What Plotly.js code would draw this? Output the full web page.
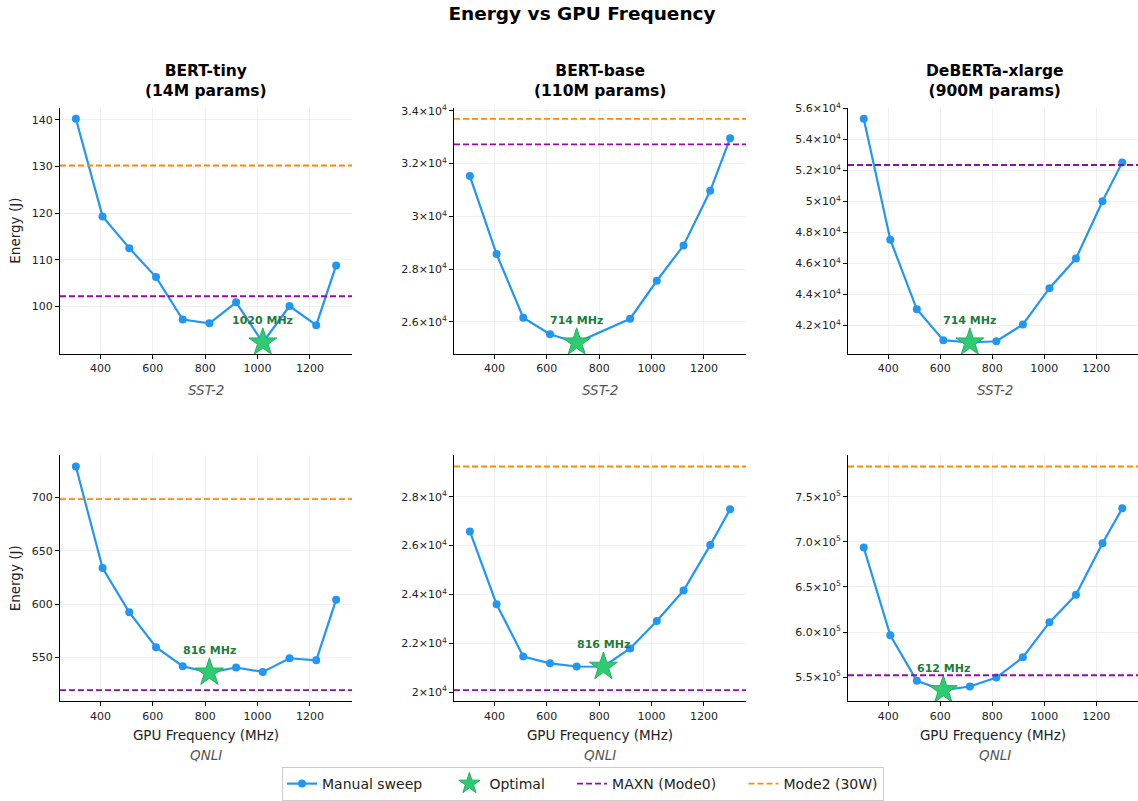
<!DOCTYPE html>
<html>
<head>
<meta charset="utf-8">
<script src="https://cdn.plot.ly/plotly-3.0.1.min.js"></script>
<style>
html,body{margin:0;padding:0;background:#fff;overflow:hidden;}
#chart{width:1138px;height:801px;}
</style>
</head>
<body>
<div id="chart"></div>
<script>
// ---------------- data ----------------
const freqs = [306, 408, 510, 612, 714, 816, 918, 1020, 1122, 1224, 1300];

const tinySst2   = [140.2, 119.3, 112.5, 106.3, 97.2, 96.4, 100.9, 92.3, 100.1, 96.0, 108.8];
const baseSst2   = [31530, 28570, 26160, 25530, 25220, null, 26120, 27560, 28900, 30970, 32960];
const debertaSst2 = [55330, 47540, 43050, 41060, 40910, 40990, 42070, 44410, 46320, 50010, 52520];
const tinyQnli   = [729.0, 633.9, 592.4, 559.7, 541.9, 536.0, 540.7, 536.6, 549.4, 547.5, 604.3];
const baseQnli   = [26580, 23600, 21460, 21180, 21050, 21040, 21790, 22910, 24160, 26020, 27490];
const debertaQnli = [693650, 596420, 545960, 535650, 539700, 549650, 572110, 610780, 641350, 698440, 737110];

// order: tiny-SST2, base-SST2, deberta-SST2, tiny-QNLI, base-QNLI, deberta-QNLI
const maxnLine  = [102.2, 32730, 52350, 519.5, 20080, 552200];
const mode2Line = [130.2, 33700, null, 698.4, 29240, 783500];
const optimalFreq = [1020, 714, 714, 816, 816, 612];

const modelTitles = ['BERT-tiny<br>(14M params)', 'BERT-base<br>(110M params)', 'DeBERTa-xlarge<br>(900M params)'];
const datasets = ['SST-2', 'QNLI'];
const legendNames = ['Manual sweep', 'Optimal', 'MAXN (Mode0)', 'Mode2 (30W)'];

const xTicks = [400, 600, 800, 1000, 1200];
const yTickVals = [
  [100, 110, 120, 130, 140],
  [26000, 28000, 30000, 32000, 34000],
  [42000, 44000, 46000, 48000, 50000, 52000, 54000, 56000],
  [550, 600, 650, 700],
  [20000, 22000, 24000, 26000, 28000],
  [550000, 600000, 650000, 700000, 750000]
];
const yTickText = [
  ['100', '110', '120', '130', '140'],
  ['2.6×10<sup>4</sup>', '2.8×10<sup>4</sup>', '3×10<sup>4</sup>', '3.2×10<sup>4</sup>', '3.4×10<sup>4</sup>'],
  ['4.2×10<sup>4</sup>', '4.4×10<sup>4</sup>', '4.6×10<sup>4</sup>', '4.8×10<sup>4</sup>', '5×10<sup>4</sup>', '5.2×10<sup>4</sup>', '5.4×10<sup>4</sup>', '5.6×10<sup>4</sup>'],
  ['550', '600', '650', '700'],
  ['2×10<sup>4</sup>', '2.2×10<sup>4</sup>', '2.4×10<sup>4</sup>', '2.6×10<sup>4</sup>', '2.8×10<sup>4</sup>'],
  ['5.5×10<sup>5</sup>', '6.0×10<sup>5</sup>', '6.5×10<sup>5</sup>', '7.0×10<sup>5</sup>', '7.5×10<sup>5</sup>']
];

const allSeries = [tinySst2, baseSst2, debertaSst2, tinyQnli, baseQnli, debertaQnli];

// ---------------- styling / layout ----------------
const W = 1138, H = 801;
const FONT = 'DejaVu Sans, Liberation Sans, sans-serif';
const BLUE = '#2196F3', STAR = '#2ecc71', STAR_EDGE = '#27ae60';
const PURPLE = '#8e0ea8', ORANGE = '#ff8c00', LABEL_GREEN = '#1e7b3a';
const xRange = [245.4, 1360.6];
const PADNAME = '\u00a0\u00a0\u00a0\u00a0\u00a0';

const colPx = [[60, 352], [454, 746], [848, 1138]];
const rowPx = [[108, 355], [457, 704]];

const traces = [];
const layout = {
  width: W, height: H,
  margin: {l: 0, r: 0, t: 0, b: 0},
  paper_bgcolor: '#ffffff', plot_bgcolor: '#ffffff',
  font: {family: FONT, color: '#222', size: 11},
  title: {text: 'Energy vs GPU Frequency', font: {family: FONT, size: 18.5, weight: 'bold', color: '#000'},
          x: 582 / W, xref: 'container', xanchor: 'center', y: 1 - 14 / H, yref: 'container', yanchor: 'middle'},
  showlegend: true,
  legend: {orientation: 'h', x: 583 / W, xanchor: 'center', y: 1 - 787 / H, yanchor: 'middle',
           bordercolor: '#cccccc', borderwidth: 1, bgcolor: '#ffffff',
           font: {family: FONT, size: 14, color: '#222'}, itemwidth: 30, tracegroupgap: 0},
  annotations: []
};

function rangeOf(vals) {
  const v = vals.filter(a => a !== null && a !== undefined);
  const mn = Math.min(...v), mx = Math.max(...v), pad = (mx - mn) * 0.05;
  return [mn - pad, mx + pad];
}

for (let k = 0; k < 6; k++) {
  const r = Math.floor(k / 3), c = k % 3;
  const idx = k + 1;
  const xa = 'xaxis' + (idx === 1 ? '' : idx), ya = 'yaxis' + (idx === 1 ? '' : idx);
  const xr = 'x' + (idx === 1 ? '' : idx), yr = 'y' + (idx === 1 ? '' : idx);
  const vals = allSeries[k];
  const yR = rangeOf(vals.concat([maxnLine[k], mode2Line[k]]));
  const centerX = ((colPx[c][0] + colPx[c][1] + (c === 2 ? 3 : 0)) / 2) / W;

  layout[xa] = {
    domain: [colPx[c][0] / W, Math.min(1, colPx[c][1] / W)], anchor: yr, range: xRange,
    tickvals: xTicks, ticks: 'outside', ticklen: 4, tickwidth: 1, tickcolor: '#000',
    showline: true, linecolor: '#000', linewidth: 1, showgrid: true, gridcolor: '#ececec', gridwidth: 0.8,
    zeroline: false, tickfont: {family: FONT, size: 11, color: '#222'}, fixedrange: true
  };
  if (r === 1) {
    layout[xa].title = {text: 'GPU Frequency (MHz)', font: {family: FONT, size: 13.5, color: '#222'}, standoff: 8};
  }
  layout[ya] = {
    domain: [1 - rowPx[r][1] / H, 1 - rowPx[r][0] / H], anchor: xr, range: yR,
    tickvals: yTickVals[k], ticktext: yTickText[k], ticks: 'outside', ticklen: 4, tickwidth: 1, tickcolor: '#000',
    showline: true, linecolor: '#000', linewidth: 1, showgrid: true, gridcolor: '#ececec', gridwidth: 0.8,
    zeroline: false, tickfont: {family: FONT, size: 11, color: '#222'}, fixedrange: true
  };
  if (c === 0) {
    layout[ya].title = {text: 'Energy (J)', font: {family: FONT, size: 13.5, color: '#222'}, standoff: 8};
  }

  // sweep
  traces.push({
    x: freqs, y: vals, xaxis: xr, yaxis: yr, type: 'scatter', mode: 'lines+markers', connectgaps: true,
    line: {color: BLUE, width: 2.2}, marker: {color: BLUE, size: 8},
    name: legendNames[0] + PADNAME, legendgroup: 'sweep', showlegend: k === 0, legendrank: 1
  });
  // optimal
  const oi = freqs.indexOf(optimalFreq[k]);
  traces.push({
    x: [optimalFreq[k]], y: [vals[oi]], xaxis: xr, yaxis: yr, type: 'scatter', mode: 'markers',
    marker: {symbol: 'star', color: STAR, size: 21, line: {color: STAR_EDGE, width: 1}},
    name: legendNames[1] + PADNAME, legendgroup: 'opt', showlegend: k === 0, legendrank: 2
  });
  // reference lines
  traces.push({
    x: xRange, y: [maxnLine[k], maxnLine[k]], xaxis: xr, yaxis: yr, type: 'scatter', mode: 'lines',
    line: {color: PURPLE, width: 1.8, dash: '6px,3px'}, name: legendNames[2] + PADNAME, legendgroup: 'maxn',
    showlegend: k === 0, legendrank: 3, hoverinfo: 'skip'
  });
  if (mode2Line[k] !== null) {
    traces.push({
      x: xRange, y: [mode2Line[k], mode2Line[k]], xaxis: xr, yaxis: yr, type: 'scatter', mode: 'lines',
      line: {color: ORANGE, width: 1.8, dash: '6px,3px'}, name: legendNames[3], legendgroup: 'mode2',
      showlegend: k === 0, legendrank: 4, hoverinfo: 'skip'
    });
  }
  layout.annotations.push({
    x: optimalFreq[k], y: vals[oi], xref: xr, yref: yr, text: '<b>' + optimalFreq[k] + ' MHz</b>',
    showarrow: false, yshift: 22, font: {family: FONT, size: 11, color: LABEL_GREEN}
  });

  // subplot titles
  if (r === 0) {
    layout.annotations.push({
      xref: 'paper', yref: 'paper', x: centerX, y: 1 - 81 / H,
      xanchor: 'center', yanchor: 'middle', showarrow: false, text: modelTitles[c],
      font: {family: FONT, size: 15.5, weight: 'bold', color: '#000'}
    });
  }
  // dataset labels
  layout.annotations.push({
    xref: 'paper', yref: 'paper', x: centerX,
    y: 1 - (r === 0 ? 391 : 758) / H, xanchor: 'center', yanchor: 'middle', showarrow: false,
    text: '<i>' + datasets[r] + '</i>', font: {family: FONT, size: 13.5, color: '#555'}
  });
}

Plotly.newPlot('chart', traces, layout, {displayModeBar: false, staticPlot: true});
</script>
</body>
</html>
